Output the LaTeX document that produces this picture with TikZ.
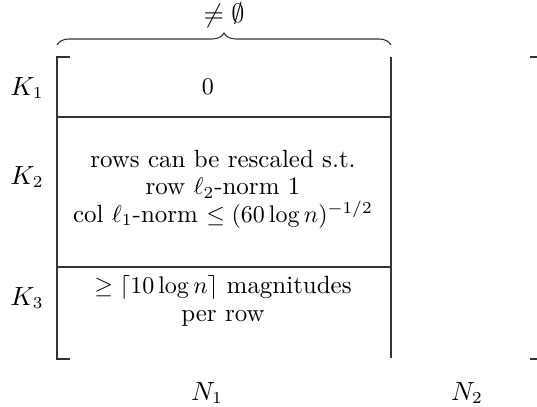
\documentclass[tikz,border=0pt]{standalone}
\usetikzlibrary{decorations.pathreplacing}
\begin{document}
\begin{tikzpicture}[x=0.41667pt, y=-0.41667pt,
  rule/.style={line width=0.45pt, black!80},
  lab/.style={inner sep=0pt, font=\fontsize{10.5}{11}\selectfont},
  cell/.style={align=center, inner sep=0pt, font=\fontsize{10.4}{11.4}\selectfont}]
\useasboundingbox (0,0) rectangle (537,406);
% bracket corners
\coordinate (tl) at (57,57);
\coordinate (bl) at (57,359);
\coordinate (tr) at (391,57);
\coordinate (br) at (391,359);
\coordinate (m1l) at (57,117);
\coordinate (m1r) at (391,117);
\coordinate (m2l) at (57,267);
\coordinate (m2r) at (391,267);
% left bracket
\draw[rule] (70,57) -- (tl) -- (bl) -- (70,359);
% far right bracket ticks
\draw[rule] (530,57) -- (537,57);
\draw[rule] (530,359) -- (537,359);
% column boundary and row separators
\draw[rule] (tr) -- (391,358);
\draw[rule] (m1l) -- (m1r);
\draw[rule] (m2l) -- (m2r);
% brace
\coordinate (bra) at (57,45);
\coordinate (brb) at (391,45);
\draw[rule, decorate, decoration={brace, amplitude=5pt}] (bra) -- (brb);
\node[lab] (ne) at (224,15) {$\neq\emptyset$};
% row labels
\node[lab] (k1) at (27,88) {$K_1$};
\node[lab] (k2) at (27,177) {$K_2$};
\node[lab] (k3) at (27,298) {$K_3$};
% column labels
\node[lab] (n1) at (207,393) {$N_1$};
\node[lab] (n2) at (467,393) {$N_2$};
% cells
\node[cell] (c1) at (208,87) {$0$};
\node[cell] (c2) at (223,189) {rows can be rescaled s.t.\\row $\ell_2$-norm 1\\col $\ell_1$-norm $\leq (60\log n)^{-1/2}$};
\node[cell] (c3) at (223,301) {$\geq\lceil 10\log n\rceil$ magnitudes\\per row};
\end{tikzpicture}
\end{document}
